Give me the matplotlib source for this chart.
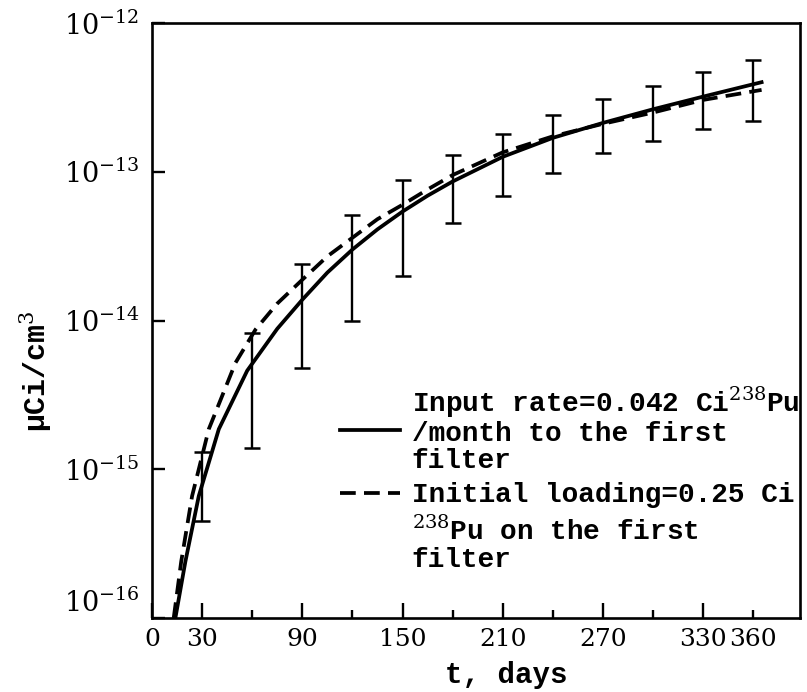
import numpy as np
import matplotlib.pyplot as plt
from matplotlib.ticker import FixedLocator, FixedFormatter, NullLocator

plt.rcParams['mathtext.fontset'] = 'dejavuserif'

# measured points with error bars (low / high ends)
err_days = [30, 60, 90, 120, 150, 180, 210, 240, 270, 300, 330, 360]
err_hi = [1.3e-15, 8.3e-15, 2.4e-14, 5.1e-14, 8.8e-14, 1.3e-13,
          1.8e-13, 2.4e-13, 3.1e-13, 3.8e-13, 4.7e-13, 5.6e-13]
err_lo = [4.5e-16, 1.4e-15, 4.8e-15, 1.0e-14, 2.0e-14, 4.5e-14,
          6.9e-14, 9.8e-14, 1.34e-13, 1.6e-13, 1.94e-13, 2.2e-13]

# input rate curve (solid)
rate_days = [14, 20, 28, 40, 57, 75, 90, 105, 120, 135, 150, 165, 180,
             210, 240, 270, 300, 330, 365]
rate_vals = [1.0e-16, 2.4e-16, 6.6e-16, 1.86e-15, 4.6e-15, 8.8e-15, 1.38e-14, 2.1e-14,
             3.0e-14, 4.1e-14, 5.4e-14, 6.9e-14, 8.6e-14,
             1.26e-13, 1.69e-13, 2.13e-13, 2.63e-13, 3.2e-13, 4.0e-13]

# initial loading curve (dashed)
load_days = [13, 17.5, 24, 34, 50, 62, 75, 90, 105, 120, 135, 150, 165, 180,
             210, 240, 270, 300, 330, 365]
load_vals = [1.0e-16, 2.4e-16, 6.6e-16, 1.86e-15, 5.2e-15, 8.7e-15, 1.3e-14, 1.88e-14,
             2.7e-14, 3.6e-14, 4.8e-14, 6.0e-14, 7.6e-14, 9.5e-14,
             1.35e-13, 1.73e-13, 2.1e-13, 2.5e-13, 3.04e-13, 3.55e-13]

xtick_major = [0, 30, 90, 150, 210, 270, 330]
xtick_minor = [60, 120, 180, 240, 300, 360]
xminor_labels = ['', '', '', '', '', '360']
yticks = [1e-16, 1e-15, 1e-14, 1e-13, 1e-12]
ytick_labels = [r'$10^{-16}$', r'$10^{-15}$', r'$10^{-14}$', r'$10^{-13}$', r'$10^{-12}$']

label_rate = 'Input rate=0.042 Ci$^{238}$Pu\n/month to the first\nfilter'
label_load = 'Initial loading=0.25 Ci'
label_load2 = '$^{238}$Pu on the first\nfilter'

fig = plt.figure(figsize=(8.07, 6.92), dpi=100)
ax = fig.add_axes([152 / 807, 1 - 618 / 692, 648 / 807, 595 / 692])

lo = np.array(err_lo)
hi = np.array(err_hi)
mid = np.sqrt(lo * hi)
ax.errorbar(err_days, mid, yerr=[mid - lo, hi - mid], fmt='none', ecolor='black',
            elinewidth=1.7, capsize=5.5, capthick=1.8)

l1, = ax.plot(rate_days, rate_vals, color='black', lw=2.7)
l2, = ax.plot(load_days, load_vals, color='black', lw=2.7, dashes=(4.2, 2.2))
blank = plt.Line2D([], [], color='none')

ax.set_yscale('log')
ax.set_ylim(1e-16, 1e-12)
ax.set_xlim(0, 388)

ax.yaxis.set_major_locator(FixedLocator(yticks))
ax.yaxis.set_major_formatter(FixedFormatter(ytick_labels))
ax.yaxis.set_minor_locator(NullLocator())
ax.xaxis.set_major_locator(FixedLocator(xtick_major))
ax.xaxis.set_major_formatter(FixedFormatter([str(t) for t in xtick_major]))
ax.xaxis.set_minor_locator(FixedLocator(xtick_minor))
ax.xaxis.set_minor_formatter(FixedFormatter(xminor_labels))

ax.tick_params(axis='x', which='major', direction='in', length=11, width=1.7, pad=7,
               labelsize=18)
ax.tick_params(axis='x', which='minor', direction='in', length=6, width=1.7, pad=7,
               labelsize=18)
ax.tick_params(axis='y', which='major', direction='in', length=9, width=1.7, pad=9,
               labelsize=19.5)
for lab in ax.get_xticklabels(which='both') + ax.get_yticklabels():
    lab.set_family('DejaVu Serif')
# lowest decade label sits just above the corner, as in the original
ax.get_yticklabels()[0].set_va('bottom')

for sp in ax.spines.values():
    sp.set_linewidth(1.9)

ax.set_xlabel('t, days', family='Liberation Mono', fontsize=21, weight='bold', va='center')
ax.xaxis.set_label_coords(0.546, -0.096)
ax.set_ylabel('µCi/cm$^3$', family='Liberation Mono', fontsize=21.5, weight='bold',
              va='center')
ax.yaxis.set_label_coords(-0.18, 0.415)

leg = ax.legend([l1, l2, blank], [label_rate, label_load, label_load2],
                loc='upper left', bbox_to_anchor=(0.29, 0.392), frameon=False,
                prop={'family': 'Liberation Mono', 'size': 20, 'weight': 'bold'},
                handlelength=2.15, handletextpad=0.43, borderpad=0, borderaxespad=0,
                labelspacing=0.3)
for t in leg.get_texts():
    t.set_linespacing(1.05)

fig.savefig('out.png', dpi=100)
